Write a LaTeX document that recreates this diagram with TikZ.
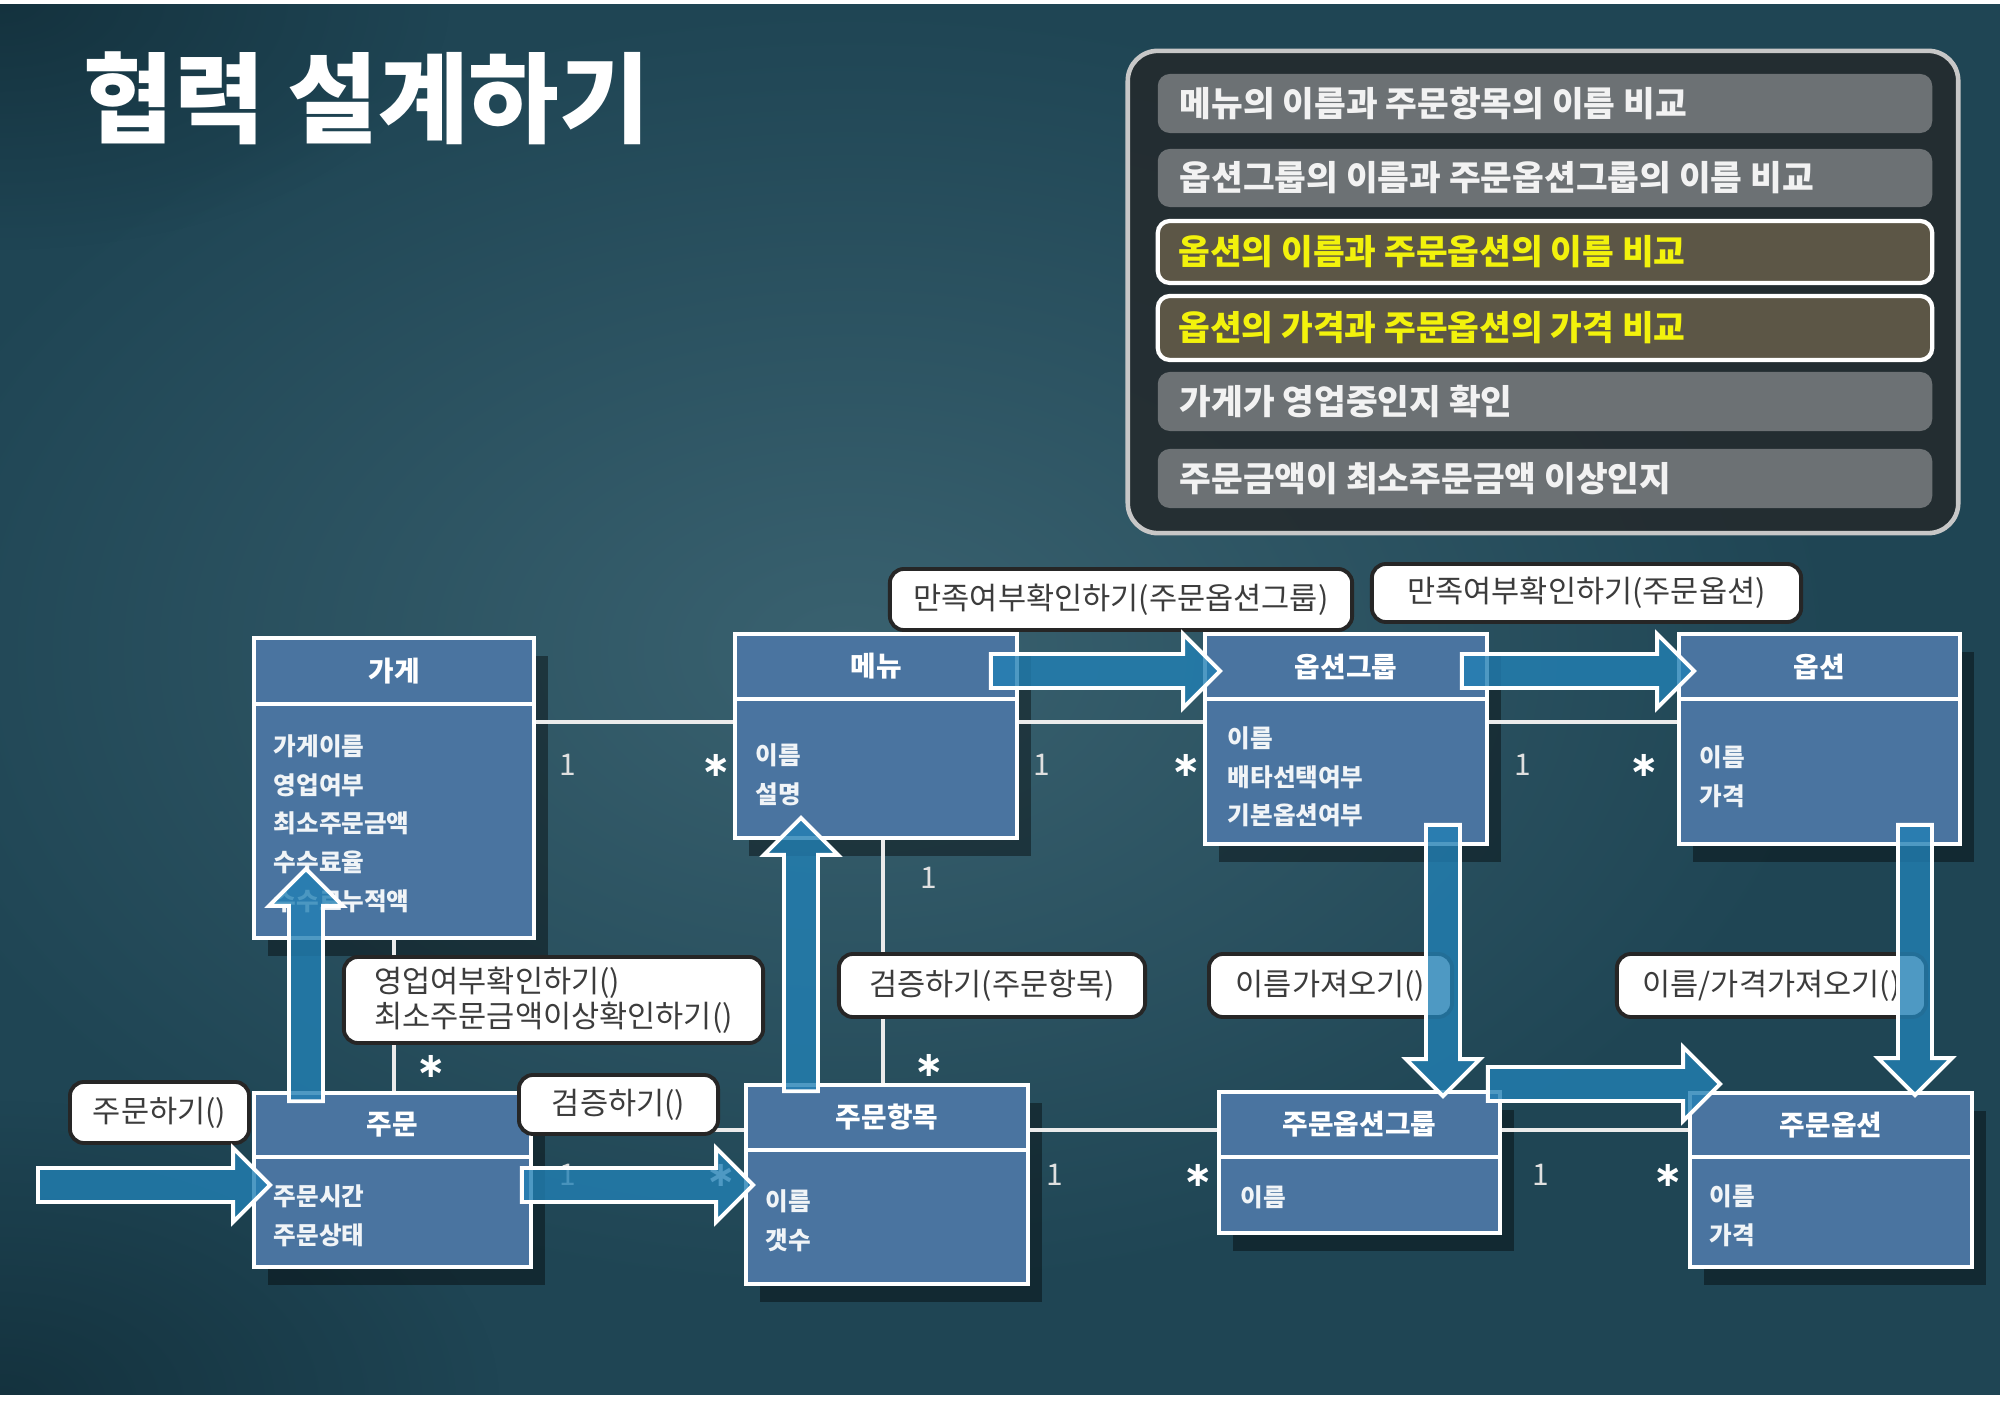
\documentclass[tikz,border=0pt]{standalone}
\usepackage{fontspec}
\newfontfamily\kr{Noto Sans CJK KR}
\newfontfamily\dv{DejaVu Sans}
\usetikzlibrary{calc,shadows,fadings}
\tikzfading[name=myfade, inner color=transparent!0, outer color=transparent!100]
\definecolor{bgA}{RGB}{31,69,84}
\definecolor{bgB}{RGB}{58,98,112}
\definecolor{bgC}{RGB}{20,50,62}
\definecolor{boxblue}{RGB}{74,116,160}
\definecolor{arrblue}{RGB}{34,128,180}
\definecolor{panelbg}{RGB}{36,42,45}
\definecolor{rowgray}{RGB}{108,113,116}
\definecolor{rowhi}{RGB}{92,86,70}
\definecolor{hiyellow}{RGB}{242,242,12}
\definecolor{calltext}{RGB}{60,60,60}
\tikzset{
 umlbox/.style={draw=white, line width=1pt, fill=boxblue, inner sep=0pt,
   drop shadow={shadow xshift=0.14cm, shadow yshift=-0.18cm, opacity=0.4, fill=black}},
 umldiv/.style={draw=white, line width=1pt},
 umlhead/.style={text=white, font=\kr\bfseries\fontsize{7.9}{9}\selectfont, inner sep=0pt},
 umlattr/.style={text=white!92!boxblue, font=\kr\bfseries\fontsize{7}{11}\selectfont, align=left, anchor=north west, inner sep=0pt},
 assoc/.style={draw=white!92!black, line width=0.9pt},
 mult/.style={text=white!88!black, font=\kr\fontsize{8.5}{9}\selectfont, inner sep=0pt},
 multstar/.style={text=white, font=\dv\bfseries\fontsize{10}{10}\selectfont, inner sep=0pt},
 callout/.style={draw=black!85, line width=1.1pt, fill=white, rounded corners=0.14cm, text=calltext,
   font=\kr\fontsize{8.7}{10}\selectfont, inner sep=0pt, align=left},
 blockstyle/.style={draw=white, line width=1.1pt, fill=arrblue, fill opacity=0.8, line join=miter},
 panelrow/.style={fill=rowgray, rounded corners=0.12cm, minimum width=7.74cm, inner sep=0pt},
 panelhi/.style={panelrow, fill=rowhi, draw=white, line width=1.2pt},
 rowtext/.style={text=white!95!black, font=\kr\bfseries\fontsize{9.8}{11}\selectfont, anchor=west, inner sep=0pt},
 hitext/.style={rowtext, text=hiyellow},
}
\newcommand\blockarrow[3]{%
  \coordinate (#1b) at ($(#3)!0.37cm!(#2)$);
  \draw[blockstyle] ($(#2)!0.17cm!90:(#3)$) -- ($(#1b)!0.17cm!90:(#3)$) -- ($(#1b)!0.37cm!90:(#3)$) -- (#3)
    -- ($(#1b)!0.37cm!-90:(#3)$) -- ($(#1b)!0.17cm!-90:(#3)$) -- ($(#2)!0.17cm!-90:(#3)$) -- cycle;}
\begin{document}
\begin{tikzpicture}[x=0.01cm, y=-0.01cm]
\path[use as bounding box] (0,0) rectangle (2000,1401);
% background
\fill[bgA] (0,0) rectangle (2000,1401);
\fill[bgB, path fading=myfade] (850,650) ellipse (1000 and 650);
\fill[bgC, path fading=myfade] (0,1401) ellipse (500 and 300);
\fill[bgC, path fading=myfade] (0,0) ellipse (450 and 250);
\fill[white] (0,0) rectangle (2000,4);
\fill[white] (0,1395) rectangle (2000,1401);
% title
\node[font=\kr\bfseries\fontsize{28}{32}\selectfont, text=white, anchor=west, inner sep=0pt] (title) at (83,98) {협력 설계하기};
% panel
\node[draw=white!78!black, line width=1.3pt, fill=panelbg, fill opacity=0.88, rounded corners=0.3cm,
  minimum width=8.30cm, minimum height=4.82cm, inner sep=0pt] (panel) at (1543,292) {};
\node[panelrow, minimum height=0.59cm] (r1) at (1545,103.5) {};
\node[panelrow, minimum height=0.58cm] (r2) at (1545,178) {};
\node[panelhi, minimum height=0.62cm] (r3) at (1545,252) {};
\node[panelhi, minimum height=0.64cm] (r4) at (1545,328) {};
\node[panelrow, minimum height=0.59cm] (r5) at (1545,401.5) {};
\node[panelrow, minimum height=0.59cm] (r6) at (1545,478.5) {};
\node[rowtext] (t1) at ($(r1.west)+(22,0)$) {메뉴의 이름과 주문항목의 이름 비교};
\node[rowtext] (t2) at ($(r2.west)+(22,0)$) {옵션그룹의 이름과 주문옵션그룹의 이름 비교};
\node[hitext] (t3) at ($(r3.west)+(22,0)$) {옵션의 이름과 주문옵션의 이름 비교};
\node[hitext] (t4) at ($(r4.west)+(22,0)$) {옵션의 가격과 주문옵션의 가격 비교};
\node[rowtext] (t5) at ($(r5.west)+(22,0)$) {가게가 영업중인지 확인};
\node[rowtext] (t6) at ($(r6.west)+(22,0)$) {주문금액이 최소주문금액 이상인지};
% UML boxes
\node[umlbox, minimum width=2.80cm, minimum height=3.00cm] (store) at (394,788) {};
\node[umlbox, minimum width=2.82cm, minimum height=2.04cm] (menu) at (876,736) {};
\node[umlbox, minimum width=2.82cm, minimum height=2.10cm] (og) at (1346,739) {};
\node[umlbox, minimum width=2.81cm, minimum height=2.10cm] (opt) at (1819.5,739) {};
\node[umlbox, minimum width=2.77cm, minimum height=1.74cm] (order) at (392.5,1180) {};
\node[umlbox, minimum width=2.82cm, minimum height=1.99cm] (oi) at (887,1184.5) {};
\node[umlbox, minimum width=2.81cm, minimum height=1.41cm] (oog) at (1359.5,1162.5) {};
\node[umlbox, minimum width=2.82cm, minimum height=1.74cm] (oo) at (1831,1180) {};
\draw[umldiv] (store.west |- 0,704) -- (store.east |- 0,704);
\draw[umldiv] (menu.west |- 0,699) -- (menu.east |- 0,699);
\draw[umldiv] (og.west |- 0,699) -- (og.east |- 0,699);
\draw[umldiv] (opt.west |- 0,699) -- (opt.east |- 0,699);
\draw[umldiv] (order.west |- 0,1157) -- (order.east |- 0,1157);
\draw[umldiv] (oi.west |- 0,1150) -- (oi.east |- 0,1150);
\draw[umldiv] (oog.west |- 0,1157) -- (oog.east |- 0,1157);
\draw[umldiv] (oo.west |- 0,1157) -- (oo.east |- 0,1157);
\node[umlhead] (storeh) at (394,671) {가게};
\node[umlhead] (menuh) at (876,666.5) {메뉴};
\node[umlhead] (ogh) at (1346,666.5) {옵션그룹};
\node[umlhead] (opth) at (1819.5,666.5) {옵션};
\node[umlhead] (orderh) at (392.5,1125) {주문};
\node[umlhead] (oih) at (887,1117.5) {주문항목};
\node[umlhead] (oogh) at (1359.5,1124.5) {주문옵션그룹};
\node[umlhead] (ooh) at (1831,1125) {주문옵션};
\node[umlattr] (storea) at (273,734) {가게이름\\영업여부\\최소주문금액\\수수료율\\수수료누적액};
\node[umlattr] (menua) at (755,743) {이름\\설명};
\node[umlattr] (oga) at (1227,726) {이름\\배타선택여부\\기본옵션여부};
\node[umlattr] (opta) at (1699,745) {이름\\가격};
\node[umlattr] (ordera) at (273,1184) {주문시간\\주문상태};
\node[umlattr] (oia) at (765,1189) {이름\\갯수};
\node[umlattr] (ooga) at (1240,1185) {이름};
\node[umlattr] (ooa) at (1709,1184) {이름\\가격};
% associations
\draw[assoc] (store.east |- 0,722) -- (menu.west |- 0,722);
\draw[assoc] (menu.east |- 0,722) -- (og.west |- 0,722);
\draw[assoc] (og.east |- 0,722) -- (opt.west |- 0,722);
\draw[assoc] (store.south) -- (store.south |- order.north);
\draw[assoc] (menu.south -| 883,0) -- (oi.north -| 883,0);
\draw[assoc] (order.east |- 0,1130) -- (oi.west |- 0,1130);
\draw[assoc] (oi.east |- 0,1130) -- (oog.west |- 0,1130);
\draw[assoc] (oog.east |- 0,1130) -- (oo.west |- 0,1130);
% multiplicities
\node[mult] (m1) at (568,765) {1};
\node[multstar] (m2) at (716,765) {∗};
\node[mult] (m3) at (1042,765) {1};
\node[multstar] (m4) at (1186,765) {∗};
\node[mult] (m5) at (1523,765) {1};
\node[multstar] (m6) at (1644,765) {∗};
\node[multstar] (m7) at (431,1066) {∗};
\node[mult] (m8) at (929,878) {1};
\node[multstar] (m9) at (929,1065) {∗};
\node[mult] (m10) at (568,1175) {1};
\node[multstar] (m11) at (721,1175) {∗};
\node[mult] (m12) at (1055,1175) {1};
\node[multstar] (m13) at (1198,1175) {∗};
\node[mult] (m14) at (1541,1175) {1};
\node[multstar] (m15) at (1668,1175) {∗};
% callouts
\node[callout, minimum width=4.62cm, minimum height=0.61cm] (c1) at (1121,599.5) {만족여부확인하기(주문옵션그룹)};
\node[callout, minimum width=4.29cm, minimum height=0.58cm] (c2) at (1586.5,593) {만족여부확인하기(주문옵션)};
\node[callout, minimum width=4.19cm, minimum height=0.86cm] (c3) at (553.5,1000) {영업여부확인하기()\\최소주문금액이상확인하기()};
\node[callout, minimum width=3.06cm, minimum height=0.63cm] (c4) at (992,985.5) {검증하기(주문항목)};
\node[callout, minimum width=2.43cm, minimum height=0.63cm] (c5) at (1330.5,985.5) {이름가져오기()};
\node[callout, minimum width=3.09cm, minimum height=0.63cm] (c6) at (1771.5,985.5) {이름/가격가져오기()};
\node[callout, minimum width=1.79cm, minimum height=0.61cm] (c7) at (159.5,1112.5) {주문하기()};
\node[callout, minimum width=1.99cm, minimum height=0.59cm] (c8) at (618.5,1104.5) {검증하기()};
% block arrows
\coordinate (a1s) at (38,1185);
\coordinate (a1e) at ($(order.west)+(18,5)$);
\coordinate (a2s) at ($(order.north)+(-86.5,10)$);
\coordinate (a2e) at ($(store.south)+(-88,-71)$);
\coordinate (a3s) at ($(order.east)+(-11,5)$);
\coordinate (a3e) at ($(oi.west)+(9,0.5)$);
\coordinate (a4s) at ($(oi.north)+(-86,8)$);
\coordinate (a4e) at ($(menu.south)+(-75,-22)$);
\coordinate (a5s) at ($(menu.east)+(-28,-65)$);
\coordinate (a5e) at ($(og.west)+(17,-68)$);
\coordinate (a6s) at ($(og.east)+(-27,-68)$);
\coordinate (a6e) at ($(opt.west)+(17,-68)$);
\coordinate (a7s) at ($(og.south)+(97,-21)$);
\coordinate (a7e) at ($(oog.north)+(83.5,6)$);
\coordinate (a8s) at ($(opt.south)+(95.5,-21)$);
\coordinate (a8e) at ($(oo.north)+(84,4)$);
\coordinate (a9s) at ($(oog.east)+(-14,-78.5)$);
\coordinate (a9e) at ($(oo.west)+(32,-96)$);
\blockarrow{a1}{a1s}{a1e}
\blockarrow{a2}{a2s}{a2e}
\blockarrow{a3}{a3s}{a3e}
\blockarrow{a4}{a4s}{a4e}
\blockarrow{a5}{a5s}{a5e}
\blockarrow{a6}{a6s}{a6e}
\blockarrow{a7}{a7s}{a7e}
\blockarrow{a8}{a8s}{a8e}
\blockarrow{a9}{a9s}{a9e}
\end{tikzpicture}
\end{document}
